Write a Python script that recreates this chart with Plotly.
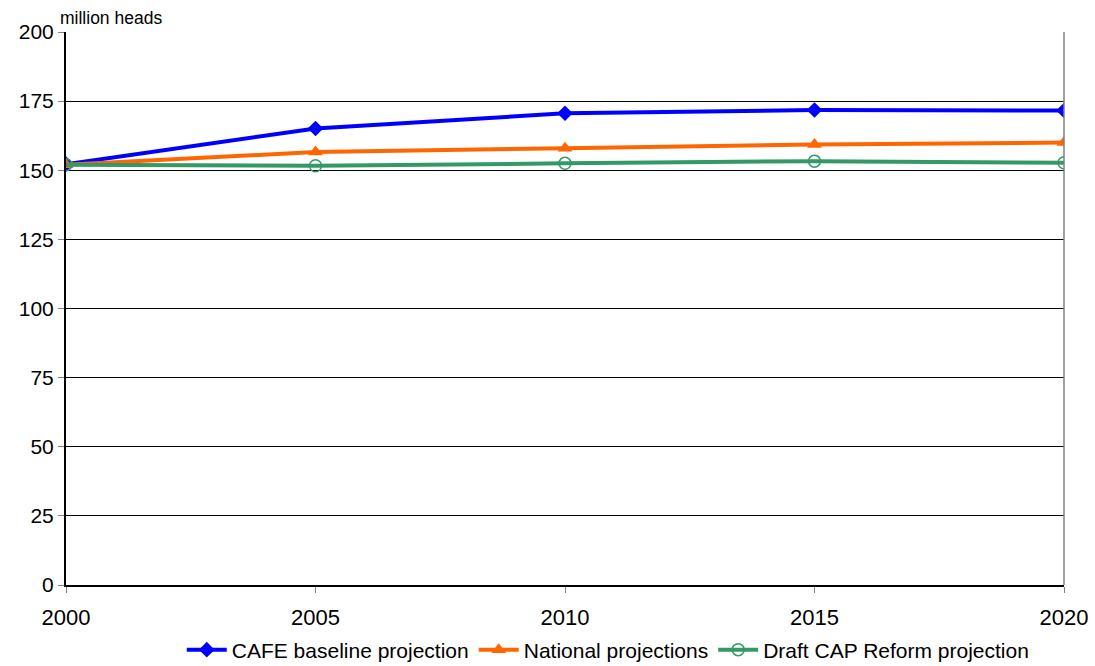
import plotly.graph_objects as go

years = [2000, 2005, 2010, 2015, 2020]
cafe = [152.2, 165.1, 170.6, 171.8, 171.6]
national = [152.0, 156.6, 158.0, 159.3, 160.0]
draft = [152.0, 151.6, 152.5, 153.3, 152.7]
y_ticks = [0, 25, 50, 75, 100, 125, 150, 175, 200]

fig = go.Figure()
fig.add_trace(go.Scatter(x=years, y=cafe, name="CAFE baseline projection",
                         mode="lines+markers",
                         line=dict(color="#0000FF", width=4),
                         marker=dict(symbol="diamond", size=12, color="#0000FF")))
fig.add_trace(go.Scatter(x=years, y=national, name="National projections",
                         mode="lines+markers",
                         line=dict(color="#FF6600", width=4),
                         marker=dict(symbol="triangle-up", size=13, color="#FF6600")))
fig.add_trace(go.Scatter(x=years, y=draft, name="Draft CAP Reform projection",
                         mode="lines+markers",
                         line=dict(color="#339966", width=4),
                         marker=dict(symbol="circle-open", size=12, color="#339966",
                                     line=dict(width=1.5, color="#339966"))))

fig.update_layout(
    width=1095, height=666,
    margin=dict(l=66, r=31, t=32, b=81, autoexpand=False),
    paper_bgcolor="white", plot_bgcolor="white",
    font=dict(family="Liberation Sans, Arial, sans-serif", color="black"),
    showlegend=True,
    legend=dict(orientation="h", x=0.116, xanchor="left", y=-0.1175, yanchor="middle",
                font=dict(size=21), itemwidth=40, tracegroupgap=0,
                bgcolor="rgba(0,0,0,0)"),
    xaxis=dict(range=[2000, 2020], tickvals=years, ticktext=[str(y) for y in years],
               showgrid=False, showline=True, linecolor="black", linewidth=2,
               ticks="outside", ticklen=6, tickcolor="gray", automargin=False,
               ticklabeloverflow="allow", ticklabelstandoff=6,
               tickfont=dict(size=22), zeroline=False),
    yaxis=dict(range=[0, 200], tickvals=y_ticks, showgrid=True, gridcolor="black",
               gridwidth=1, showline=True, linecolor="black", linewidth=2,
               ticks="outside", ticklen=6, tickcolor="gray", automargin=False,
               tickfont=dict(size=21), zeroline=False),
)
fig.add_shape(type="line", xref="paper", yref="paper", x0=1, x1=1, y0=0, y1=1,
              line=dict(color="gray", width=1.5))
fig.add_annotation(text="million heads", xref="paper", yref="paper", x=-0.008, y=1.0,
                   xanchor="left", yanchor="middle", showarrow=False,
                   font=dict(size=17.5), yshift=14)
fig.write_html("out.html", config={"displayModeBar": False},
               post_script="document.body.style.margin='0';")
